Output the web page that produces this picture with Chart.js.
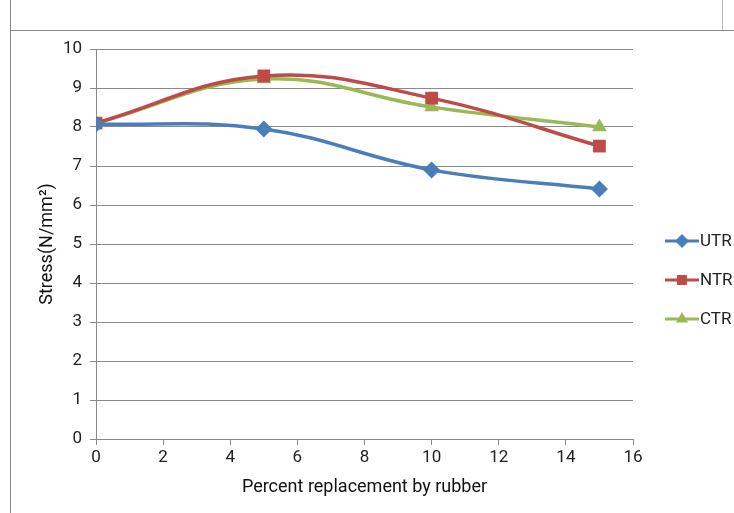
<!DOCTYPE html>
<html>
<head>
<meta charset="utf-8">
<script src="https://cdn.jsdelivr.net/npm/chart.js@4"></script>
<style>
  html, body { margin: 0; padding: 0; background: #fff; }
  #wrap { position: relative; width: 734px; height: 513px; }
  #frameTop { position: absolute; left: 10px; top: 30px; width: 724px; border-top: 1px solid #8a8a8a; }
  #frameLeft { position: absolute; left: 10px; top: 0; height: 513px; border-left: 1px solid #8a8a8a; }
  #frameRight { position: absolute; left: 722px; top: 0; height: 30px; border-left: 1px solid #bbb; }
  canvas { position: absolute; left: 0; top: 0; }
</style>
</head>
<body>
<div id="wrap">
  <div id="frameTop"></div>
  <div id="frameLeft"></div>
  <div id="frameRight"></div>
  <canvas id="myChart" width="734" height="513"></canvas>
</div>
<script>
// values
const percent = [0, 5, 10, 15]
const utr = [8.08, 7.95, 6.9, 6.41]
const ntr = [8.1, 9.31, 8.74, 7.51]
const ctr = [8.1, 9.23, 8.51, 8.0]
const seriesNames = ["UTR", "NTR", "CTR"]
const xTicks = [0, 2, 4, 6, 8, 10, 12, 14, 16]
const yTicks = [0, 1, 2, 3, 4, 5, 6, 7, 8, 9, 10]

const colors = ["#4a7ebb", "#be4b48", "#98b954"]
const markers = ["rectRot", "rect", "triangle"]
const markerSize = [8.5, 9, 8.5]

const toPoints = vals => vals.map((v, i) => ({ x: percent[i], y: v }))

const makeSet = (name, vals, i) => ({
    label: name,
    data: toPoints(vals),
    borderColor: colors[i],
    backgroundColor: colors[i],
    borderWidth: 3.5,
    showLine: true,
    tension: 0.4,
    pointStyle: markers[i],
    pointRadius: markerSize[i],
    pointBorderWidth: 0
})

// legend drawn as line + marker like the spreadsheet one
const sideLegend = {
    id: "sideLegend",
    afterDraw(chart) {
        const ctx = chart.ctx
        const rows = [241, 280, 319]
        chart.data.datasets.forEach((ds, i) => {
            const y = rows[i]
            ctx.save()
            ctx.strokeStyle = ds.borderColor
            ctx.fillStyle = ds.borderColor
            ctx.lineWidth = 3
            ctx.beginPath()
            ctx.moveTo(665, y)
            ctx.lineTo(699, y)
            ctx.stroke()
            Chart.helpers.drawPoint(ctx, { pointStyle: ds.pointStyle, radius: 7, borderWidth: 0 }, 682, y)
            ctx.fillStyle = "#222"
            ctx.font = "17px Roboto"
            ctx.textBaseline = "middle"
            ctx.fillText(ds.label, 700, y + 1)
            ctx.restore()
        })
    }
}

const config = {
    type: "scatter",
    data: {
        datasets: [
            makeSet(seriesNames[0], utr, 0),
            makeSet(seriesNames[1], ntr, 1),
            makeSet(seriesNames[2], ctr, 2)
        ]
    },
    options: {
        responsive: false,
        animation: false,
        layout: { padding: { top: 49, right: 101, left: 0, bottom: 0 } },
        plugins: {
            legend: { display: false },
            tooltip: { enabled: false }
        },
        scales: {
            x: {
                type: "linear",
                min: 0,
                max: 16,
                afterBuildTicks: axis => { axis.ticks = xTicks.map(v => ({ value: v })) },
                afterFit: axis => { axis.height = 74 },
                grid: { drawOnChartArea: false, drawTicks: true, tickLength: 6, color: "#8a8a8a" },
                border: { color: "#8a8a8a", width: 1 },
                ticks: { color: "#222", font: { family: "Roboto", size: 17 }, padding: 3 },
                title: {
                    display: true,
                    text: "Percent replacement by rubber",
                    color: "#111",
                    font: { family: "Roboto", size: 18 },
                    padding: { top: 0, bottom: 15 }
                }
            },
            y: {
                min: 0,
                max: 10,
                afterBuildTicks: axis => { axis.ticks = yTicks.map(v => ({ value: v })) },
                afterFit: axis => { axis.width = 96 },
                grid: { color: "#8a8a8a", lineWidth: 1, tickLength: 6 },
                border: { color: "#8a8a8a", width: 1 },
                ticks: { color: "#222", font: { family: "Roboto", size: 17 }, padding: 8 },
                title: {
                    display: true,
                    text: "Stress(N/mm²)",
                    color: "#111",
                    font: { family: "Roboto", size: 18 },
                    padding: { top: 37, bottom: 0 }
                }
            }
        }
    },
    plugins: [sideLegend]
}

let myChart = new Chart(document.getElementById("myChart"), config)
</script>
</body>
</html>
